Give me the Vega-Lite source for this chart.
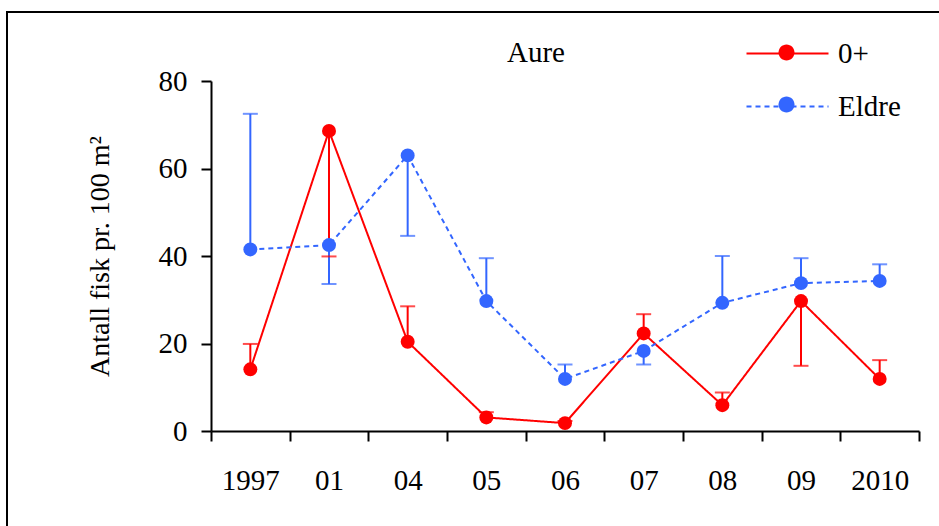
{
  "$schema": "https://vega.github.io/schema/vega-lite/v6.json",
  "width": 940,
  "height": 520,
  "autosize": {"type": "none"},
  "padding": {"left": 7, "top": 12, "right": 0, "bottom": 0},
  "background": "white",
  "config": {
    "view": {"stroke": "black", "strokeWidth": 2},
    "font": "Liberation Serif"
  },
  "title": {
    "text": "Aure",
    "anchor": "start",
    "frame": "group",
    "orient": "top",
    "offset": 0,
    "dx": 500,
    "dy": 79,
    "baseline": "alphabetic",
    "fontSize": 29,
    "font": "Liberation Serif",
    "fontWeight": "normal",
    "color": "black"
  },
  "data": {
    "values": [
      {"yr": "1997", "s": "0+", "g": "0+", "v": 14.1, "e": 19.9},
      {"yr": "01", "s": "0+", "g": "0+", "v": 68.6, "e": 39.9},
      {"yr": "04", "s": "0+", "g": "0+", "v": 20.4, "e": 28.5},
      {"yr": "05", "s": "0+", "g": "0+", "v": 3.1, "e": 4.3},
      {"yr": "06", "s": "0+", "g": "0+", "v": 1.8, "e": 2.3},
      {"yr": "07", "s": "0+", "g": "0+", "v": 22.3, "e": 26.7},
      {"yr": "08", "s": "0+", "g": "0+", "v": 5.9, "e": 8.8},
      {"yr": "09", "s": "0+", "g": "0+", "v": 29.7, "e": 14.9},
      {"yr": "2010", "s": "0+", "g": "0+", "v": 11.9, "e": 16.2},
      {"yr": "1997", "s": "Eldre", "g": "Eldre", "v": 41.5, "e": 72.5},
      {"yr": "01", "s": "Eldre", "g": "Eldre", "v": 42.5, "e": 33.6},
      {"yr": "04", "s": "Eldre", "g": "Eldre", "v": 63.0, "e": 44.6},
      {"yr": "05", "s": "Eldre", "g": "Eldre", "v": 29.7, "e": 39.5},
      {"yr": "06", "s": "Eldre", "g": "Eldre", "v": 11.9, "e": 15.2},
      {"yr": "07", "s": "Eldre", "g": "Eldre", "v": 18.3, "e": 15.2},
      {"yr": "08", "s": "Eldre", "g": "Eldre", "v": 29.3, "e": 40.0},
      {"yr": "09", "s": "Eldre", "g": "Eldre", "v": 33.8, "e": 39.5},
      {"yr": "2010", "s": "Eldre", "g": "Eldre", "v": 34.3, "e": 38.1}
    ]
  },
  "encoding": {
    "x": {
      "field": "yr",
      "type": "ordinal",
      "sort": ["1997", "01", "04", "05", "06", "07", "08", "09", "2010"],
      "scale": {"range": [204, 912], "paddingInner": 0, "paddingOuter": 0},
      "axis": {
        "title": null,
        "offset": -101,
        "tickBand": "extent",
        "labelAngle": 0,
        "labelFontSize": 29,
        "labelFont": "Liberation Serif",
        "labelColor": "black",
        "labelPadding": 25,
        "tickColor": "black",
        "tickSize": 10,
        "tickWidth": 2,
        "domainColor": "black",
        "domainWidth": 2,
        "grid": false
      }
    },
    "y": {
      "field": "v",
      "type": "quantitative",
      "scale": {"domain": [0, 80], "range": [419, 69], "nice": false, "zero": false},
      "axis": {
        "title": "Antall fisk pr. 100 m²",
        "offset": -204,
        "values": [0, 20, 40, 60, 80],
        "labelFontSize": 29,
        "labelFont": "Liberation Serif",
        "labelColor": "black",
        "labelPadding": 14,
        "tickColor": "black",
        "tickSize": 10,
        "tickWidth": 2,
        "domainColor": "black",
        "domainWidth": 2,
        "grid": false,
        "titleFont": "Liberation Serif",
        "titleFontSize": 28,
        "titleFontWeight": "normal",
        "titleColor": "black",
        "titlePadding": 44
      }
    },
    "color": {
      "field": "s",
      "type": "nominal",
      "scale": {"domain": ["0+", "Eldre"], "range": ["#FF0000", "#3366FF"]},
      "legend": {
        "title": null,
        "orient": "none",
        "legendX": 759,
        "legendY": 20,
        "padding": 0,
        "symbolType": "M0.39,0A0.39,0.39,0,1,1,-0.39,0A0.39,0.39,0,1,1,0.39,0Z",
        "symbolSize": 1681,
        "symbolStrokeWidth": 0,
        "labelExpr": "''",
        "labelFontSize": 29,
        "labelFont": "Liberation Serif",
        "labelColor": "black",
        "labelOffset": 29,
        "rowPadding": 16,
        "zindex": 2,
        "encode": {
          "symbols": {
            "update": {
              "fill": {"scale": "color", "field": "value"},
              "opacity": {"value": 1},
              "strokeWidth": {"value": 0}
            }
          }
        }
      }
    }
  },
  "layer": [
    {
      "mark": {"type": "rule", "strokeWidth": 2},
      "encoding": {"y2": {"field": "e"}}
    },
    {
      "mark": {"type": "tick", "thickness": 2, "size": 15, "orient": "horizontal"},
      "encoding": {"y": {"field": "e", "type": "quantitative"}}
    },
    {
      "mark": {"type": "line", "strokeWidth": 2},
      "encoding": {
        "strokeDash": {
          "field": "g",
          "type": "nominal",
          "scale": {"domain": ["Eldre", "0+"], "range": [[5, 4], [1, 0]]},
          "legend": {
            "title": null,
            "orient": "none",
            "legendX": 759,
            "legendY": 20,
            "padding": 0,
            "values": ["0+", "Eldre"],
            "symbolType": "M-2,0L2,0",
            "symbolSize": 1681,
            "symbolStrokeWidth": 2,
            "labelFontSize": 29,
            "labelFont": "Liberation Serif",
            "labelColor": "black",
            "labelOffset": 29,
            "rowPadding": 16,
            "zindex": 1,
            "encode": {
              "symbols": {
                "update": {
                  "stroke": {"scale": "color", "field": "value"},
                  "fill": {"value": "transparent"},
                  "opacity": {"value": 1}
                }
              }
            }
          }
        }
      }
    },
    {
      "mark": {"type": "point", "filled": true, "size": 195, "opacity": 1}
    }
  ]
}
